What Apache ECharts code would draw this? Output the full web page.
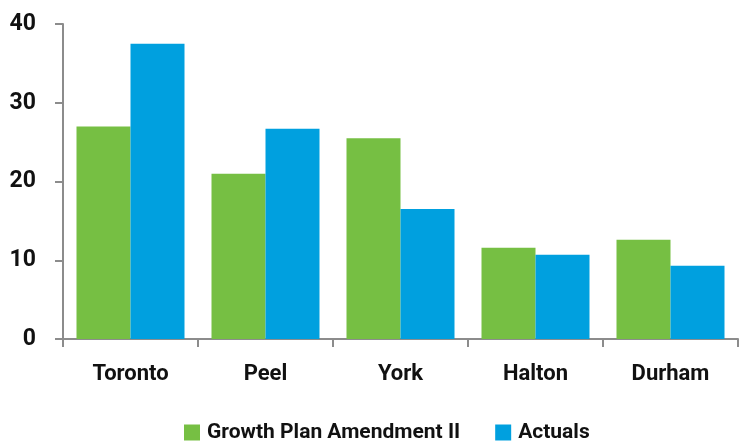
<!DOCTYPE html>
<html>
<head>
<meta charset="utf-8">
<script src="https://cdn.jsdelivr.net/npm/echarts@6/dist/echarts.min.js"></script>
<style>
html,body{margin:0;padding:0;background:#fff;}
#chart{width:741px;height:444px;}
</style>
</head>
<body>
<div id="chart"></div>
<script>
const categories = ['Toronto', 'Peel', 'York', 'Halton', 'Durham'];
const growthPlan = [27.0, 21.0, 25.5, 11.6, 12.6];
const actuals = [37.5, 26.7, 16.5, 10.7, 9.3];
const yTicks = [0, 10, 20, 30, 40];
const seriesNames = ['Growth Plan Amendment II', 'Actuals'];

const FONT = 'Roboto, "Liberation Sans", sans-serif';
const axisGray = '#8c8c8c';

const chart = echarts.init(document.getElementById('chart'), null, {renderer: 'canvas'});
chart.setOption({
  animation: false,
  backgroundColor: '#ffffff',
  grid: {left: 63, right: 3, top: 24, bottom: 105, containLabel: false},
  legend: {
    left: 184, top: 420, padding: 0,
    itemWidth: 16, itemHeight: 16, itemGap: 35,
    icon: 'rect',
    textStyle: {fontFamily: FONT, fontSize: 21, fontWeight: 'bold', color: '#111', padding: [0,0,0,2], lineHeight: 25},
    data: seriesNames
  },
  xAxis: {
    type: 'category',
    data: categories,
    axisLine: {lineStyle: {color: axisGray, width: 2}},
    axisTick: {show: true, length: 8, lineStyle: {color: axisGray, width: 2}},
    axisLabel: {fontFamily: FONT, fontSize: 22, fontWeight: 'bold', color: '#111', margin: 24}
  },
  yAxis: {
    type: 'value',
    min: yTicks[0], max: yTicks[yTicks.length - 1], interval: 10,
    axisLine: {show: true, lineStyle: {color: axisGray, width: 2}},
    axisTick: {show: true, length: 8, lineStyle: {color: axisGray, width: 2}},
    splitLine: {show: false},
    axisLabel: {fontFamily: FONT, fontSize: 23, fontWeight: 'bold', color: '#111', margin: 27}
  },
  series: [
    {name: seriesNames[0], type: 'bar', data: growthPlan, barGap: '0%', barCategoryGap: '20%',
     itemStyle: {color: '#76bf43'}},
    {name: seriesNames[1], type: 'bar', data: actuals, barGap: '0%', barCategoryGap: '20%',
     itemStyle: {color: '#00a0df'}}
  ]
});
</script>
</body>
</html>
